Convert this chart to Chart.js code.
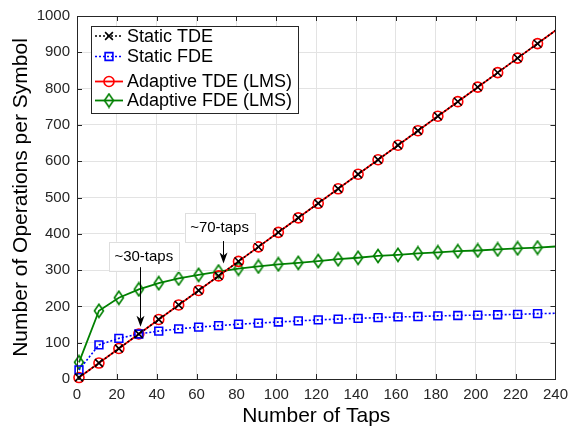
<!DOCTYPE html>
<html>
<head>
<meta charset="utf-8">
<script src="https://cdn.jsdelivr.net/npm/chart.js@4.4.1/dist/chart.umd.min.js"></script>
<style>
  html, body { margin: 0; padding: 0; background: #fff; }
  #wrap { width: 575px; height: 429px; }
</style>
</head>
<body>
<div id="wrap"><canvas id="chart" width="575" height="429"></canvas></div>
<script>
// number of taps (markers every 10 taps, line runs on to 240)
var taps = [1, 11, 21, 31, 41, 51, 61, 71, 81, 91, 101, 111, 121, 131, 141, 151, 161, 171, 181, 191, 201, 211, 221, 231, 240];

var staticTDE   = [4, 44, 84, 124, 164, 204, 244, 284, 324, 364, 404, 444, 484, 524, 564, 604, 644, 684, 724, 764, 804, 844, 884, 924, 960];
var staticFDE   = [25, 94, 112, 124, 132, 138, 143, 147, 151, 154, 157, 160, 163, 165, 167, 169, 171, 172, 174, 175, 176, 177, 178, 180, 181];
var adaptiveTDE = [4, 44, 84, 124, 164, 204, 244, 284, 324, 364, 404, 444, 484, 524, 564, 604, 644, 684, 724, 764, 804, 844, 884, 924, 960];
var adaptiveFDE = [46, 188, 224, 247, 264, 277, 287, 296, 304, 310, 316, 320, 325, 330, 334, 339, 342, 346, 349, 352, 354, 357, 360, 362, 365];

var xTicks = [0, 20, 40, 60, 80, 100, 120, 140, 160, 180, 200, 220, 240];
var yTicks = [0, 100, 200, 300, 400, 500, 600, 700, 800, 900, 1000];

var seriesNames = ['Static TDE', 'Static FDE', 'Adaptive TDE (LMS)', 'Adaptive FDE (LMS)'];

var FONT = "'Liberation Sans', Arial, Helvetica, sans-serif";
var AXIS = '#262626';
var GRID = '#e3e3e3';

Chart.defaults.font.family = FONT;

// tall MATLAB-like diamond marker
function diamond(color) {
  var c = document.createElement('canvas');
  c.width = 12; c.height = 16;
  var g = c.getContext('2d');
  g.strokeStyle = color; g.lineWidth = 1.6;
  g.beginPath();
  g.moveTo(6, 1.5); g.lineTo(10.5, 8); g.lineTo(6, 14.5); g.lineTo(1.5, 8);
  g.closePath(); g.stroke();
  return c;
}

function pts(ys) {
  return taps.map(function (x, i) { return { x: x, y: ys[i] }; });
}
// no marker on the final (240) point
function markR(r) {
  return function (ctx) { return ctx.dataIndex === taps.length - 1 ? 0 : r; };
}

var datasets = [
  { label: seriesNames[0], data: pts(staticTDE), borderColor: '#000', borderWidth: 1.6, borderDash: [2, 2],
    pointStyle: 'crossRot', pointRadius: markR(5.5), pointBorderColor: '#000', pointBorderWidth: 1.6, pointBackgroundColor: 'rgba(0,0,0,0)' },
  { label: seriesNames[1], data: pts(staticFDE), borderColor: '#0000ff', borderWidth: 1.6, borderDash: [2, 2],
    pointStyle: 'rect', pointRadius: markR(5.5), pointBorderColor: '#0000ff', pointBorderWidth: 1.6, pointBackgroundColor: 'rgba(0,0,0,0)' },
  { label: seriesNames[2], data: pts(adaptiveTDE), borderColor: '#ff0000', borderWidth: 1.8,
    pointStyle: 'circle', pointRadius: markR(5), pointBorderColor: '#ff0000', pointBorderWidth: 1.6, pointBackgroundColor: 'rgba(0,0,0,0)' },
  { label: seriesNames[3], data: pts(adaptiveFDE), borderColor: '#008000', borderWidth: 1.8,
    pointStyle: diamond('#008000'), pointRadius: markR(6), pointBorderColor: '#008000', pointBorderWidth: 1.6, pointBackgroundColor: 'rgba(0,0,0,0)' }
];
datasets.forEach(function (d) { d.fill = false; d.tension = 0; d.clip = false; });

// text boxes with arrows (data coordinates)
var notes = [
  { text: '~30-taps', tx: 33.5, ty: 338, ax: 31.5, from: 308, to: 144 },
  { text: '~70-taps', tx: 71.5, ty: 418, ax: 73.4, from: 380, to: 318 }
];

var boxPlugin = {
  id: 'matlabBox',
  afterDatasetsDraw: function (chart) {
    var ctx = chart.ctx, a = chart.chartArea, sx = chart.scales.x, sy = chart.scales.y;
    ctx.save();
    ctx.strokeStyle = AXIS; ctx.lineWidth = 1;
    ctx.strokeRect(Math.round(a.left) + 0.5, Math.round(a.top) + 0.5, Math.round(a.right - a.left), Math.round(a.bottom - a.top));
    ctx.beginPath();
    xTicks.forEach(function (v) {
      var px = Math.round(sx.getPixelForValue(v)) + 0.5;
      ctx.moveTo(px, a.bottom); ctx.lineTo(px, a.bottom - 5);
      ctx.moveTo(px, a.top); ctx.lineTo(px, a.top + 5);
    });
    yTicks.forEach(function (v) {
      var py = Math.round(sy.getPixelForValue(v)) + 0.5;
      ctx.moveTo(a.left, py); ctx.lineTo(a.left + 5, py);
      ctx.moveTo(a.right, py); ctx.lineTo(a.right - 5, py);
    });
    ctx.stroke();

    // annotations
    ctx.font = '15px ' + FONT;
    notes.forEach(function (n) {
      var cx = sx.getPixelForValue(n.tx), cy = sy.getPixelForValue(n.ty);
      var w = ctx.measureText(n.text).width + 11, h = 29;
      ctx.fillStyle = '#fff'; ctx.strokeStyle = '#dedede';
      ctx.fillRect(cx - w / 2, cy - h / 2, w, h);
      ctx.strokeRect(Math.round(cx - w / 2) + 0.5, Math.round(cy - h / 2) + 0.5, Math.round(w), h);
      ctx.fillStyle = '#000'; ctx.textAlign = 'center'; ctx.textBaseline = 'middle';
      ctx.fillText(n.text, cx, cy + 1);
      var ax = Math.round(sx.getPixelForValue(n.ax)) + 0.5;
      var y0 = sy.getPixelForValue(n.from), y1 = sy.getPixelForValue(n.to);
      ctx.strokeStyle = '#000'; ctx.lineWidth = 1;
      ctx.beginPath(); ctx.moveTo(ax, y0); ctx.lineTo(ax, y1 - 8); ctx.stroke();
      ctx.beginPath(); ctx.moveTo(ax, y1); ctx.lineTo(ax - 4, y1 - 11); ctx.lineTo(ax, y1 - 8); ctx.lineTo(ax + 4, y1 - 11);
      ctx.closePath(); ctx.fillStyle = '#000'; ctx.fill();
    });
    ctx.restore();
  },
  afterDraw: function (chart) {
    // legend box in the upper-left corner of the axes
    var ctx = chart.ctx, a = chart.chartArea;
    var bx = Math.round(a.left) + 14, by = Math.round(a.top) + 10, bw = 207, bh = 87;
    var rows = [10, 30.5, 55.5, 74.5];
    ctx.save();
    ctx.fillStyle = '#fff'; ctx.fillRect(bx, by, bw, bh);
    ctx.strokeStyle = AXIS; ctx.lineWidth = 1; ctx.strokeRect(bx + 0.5, by + 0.5, bw, bh);
    ctx.font = '18px ' + FONT; ctx.textBaseline = 'middle'; ctx.textAlign = 'left';
    chart.data.datasets.forEach(function (d, i) {
      var y = by + rows[i];
      ctx.strokeStyle = d.borderColor; ctx.lineWidth = d.borderWidth;
      ctx.setLineDash(d.borderDash || []);
      ctx.beginPath(); ctx.moveTo(bx + 4, y); ctx.lineTo(bx + 32, y); ctx.stroke();
      ctx.setLineDash([]);
      ctx.strokeStyle = d.pointBorderColor; ctx.fillStyle = 'rgba(0,0,0,0)'; ctx.lineWidth = d.pointBorderWidth;
      Chart.helpers.drawPoint(ctx, { pointStyle: d.pointStyle, radius: d.pointStyle === 'circle' ? 5 : 5.5, rotation: 0, borderWidth: d.pointBorderWidth }, bx + 18, y);
      ctx.fillStyle = '#000';
      ctx.fillText(d.label, bx + 36, y + 1);
    });
    ctx.restore();
  }
};

new Chart(document.getElementById('chart'), {
  type: 'line',
  data: { datasets: datasets },
  options: {
    responsive: false,
    animation: false,
    devicePixelRatio: 1,
    layout: { padding: { top: 15, right: 11, bottom: 0, left: 0 } },
    plugins: { legend: { display: false }, tooltip: { enabled: false } },
    scales: {
      x: {
        type: 'linear', min: 0, max: 240,
        afterBuildTicks: function (s) { s.ticks = xTicks.map(function (v) { return { value: v }; }); },
        afterFit: function (s) { s.height = 50; },
        grid: { color: GRID, drawTicks: false },
        border: { display: true, color: AXIS },
        ticks: { color: AXIS, font: { size: 15 }, padding: 7, maxRotation: 0, callback: function (v) { return String(v); } },
        title: { display: true, text: 'Number of Taps', color: '#000', font: { size: 21 }, padding: { top: 0, bottom: 0 } }
      },
      y: {
        type: 'linear', min: 0, max: 1000,
        afterBuildTicks: function (s) { s.ticks = yTicks.map(function (v) { return { value: v }; }); },
        afterFit: function (s) { s.width = 77; },
        grid: { color: GRID, drawTicks: false },
        border: { display: true, color: AXIS },
        ticks: { color: AXIS, font: { size: 15 }, padding: 7, callback: function (v) { return String(v); } },
        title: { display: true, text: 'Number of Operations per Symbol', color: '#000', font: { size: 21 }, padding: { top: 9, bottom: 0 } }
      }
    }
  },
  plugins: [boxPlugin]
});
</script>
</body>
</html>
